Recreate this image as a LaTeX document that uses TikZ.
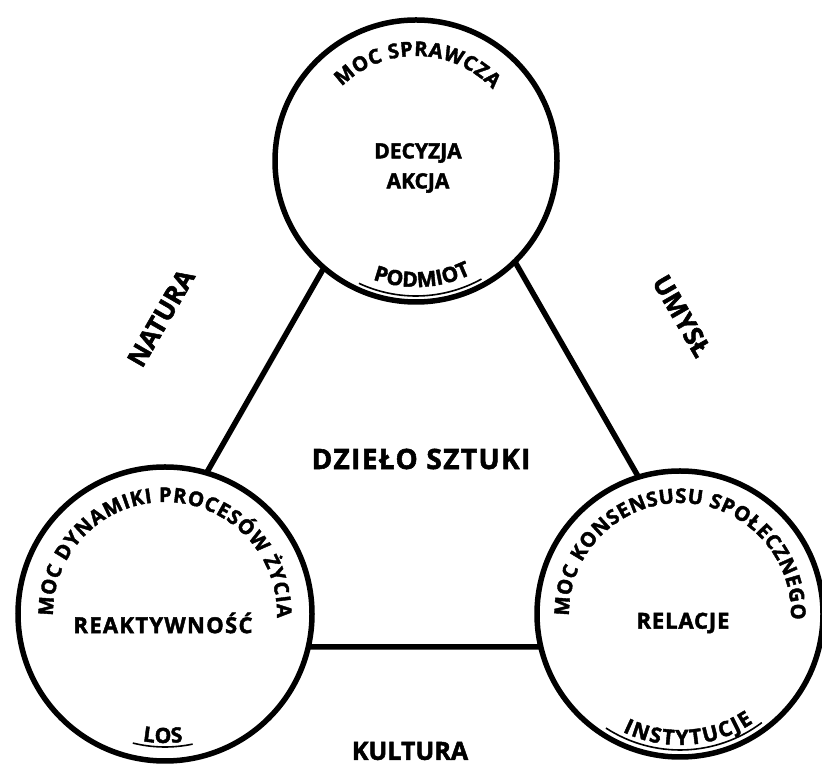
\documentclass[tikz,border=0pt]{standalone}
\usepackage{fontspec}
\setmainfont{Open Sans}[FakeBold=2]
\usetikzlibrary{decorations.text}
% fonts for the arc captions
\newcommand\arcfont{\bfseries\fontsize{20.2}{20}\selectfont}
\newcommand\lowfont{\bfseries\fontsize{21}{21}\selectfont}
\begin{document}
\begin{tikzpicture}[x=1pt,y=1pt,
  ring/.style={circle, draw, line width=5.5pt, fill=white, inner sep=0pt},
  side/.style={line width=5.5pt},
  inner/.style={font=\bfseries\fontsize{21}{30}\selectfont, align=center},
  big/.style={font=\bfseries\fontsize{26}{30}\selectfont},
  uline/.style={line width=1.6pt},
  arctext/.style={decorate, decoration={text along path, text align=fit to path, text={#1}}},
]
\useasboundingbox (0,0) rectangle (822,765);

% triangle behind the three circles
\coordinate (A) at (421,667);
\coordinate (B) at (107,118);
\coordinate (C) at (736,118);
\draw[side] (A) -- (B) -- (C) -- cycle;

% circles
\node[ring, minimum size=282pt] (top) at (416,604) {};
\node[ring, minimum size=294pt] (left) at (165,151) {};
\node[ring, minimum size=286pt] (right) at (680,151) {};

% captions running along the upper arcs
\path[arctext={|\arcfont|MOC SPRAWCZA}]
  (top.center) ++(135:105pt) arc[start angle=135, end angle=43, radius=105pt];
\path[arctext={|\arcfont|MOC DYNAMIKI PROCESÓW ŻYCIA}]
  (left.center) ++(181:112pt) arc[start angle=181, end angle=-2, radius=112pt];
\path[arctext={|\arcfont|MOC KONSENSUSU SPOŁECZNEGO}]
  (right.center) ++(181:111pt) arc[start angle=181, end angle=-3, radius=111pt];

% captions along the lower arcs, with their underlines
\path[arctext={|\lowfont|PODMIOT}]
  (top.center) ++(250:126pt) arc[start angle=250, end angle=294, radius=126pt];
\draw[uline] (top.center) ++(245:135pt) arc[start angle=245, end angle=299, radius=135pt];
\path[arctext={|\lowfont|LOS}]
  (left.center) ++(260:129pt) arc[start angle=260, end angle=278, radius=129pt];
\draw[uline] (left.center) ++(256:133pt) arc[start angle=256, end angle=282, radius=133pt];
\path[arctext={|\lowfont|INSTYTUCJE}]
  (right.center) ++(244:131pt) arc[start angle=244, end angle=304, radius=131pt];
\draw[uline] (right.center) ++(237:136pt) arc[start angle=237, end angle=307, radius=136pt];

% texts inside the circles
\node[inner] (t1) at (418,597) {DECYZJA\\AKCJA};
\node[inner, font=\bfseries\fontsize{22}{30}\selectfont\addfontfeature{LetterSpace=6}] (t2) at (163,142) {REAKTYWNOŚĆ};
\node[inner, font=\bfseries\fontsize{22}{30}\selectfont\addfontfeature{LetterSpace=4}] (t3) at (683,142) {RELACJE};

% labels of the triangle
\node[big, font=\bfseries\fontsize{28}{30}\selectfont\addfontfeature{LetterSpace=5}] (center) at (421,306) {DZIEŁO SZTUKI};
\node[big, font=\bfseries\fontsize{25}{30}\selectfont] (bottom) at (410,14) {KULTURA};
\node[big, rotate=60] (nat) at (161,447) {NATURA};
\node[big, rotate=-60] (umy) at (682,449) {UMYSŁ};
\end{tikzpicture}
\end{document}
